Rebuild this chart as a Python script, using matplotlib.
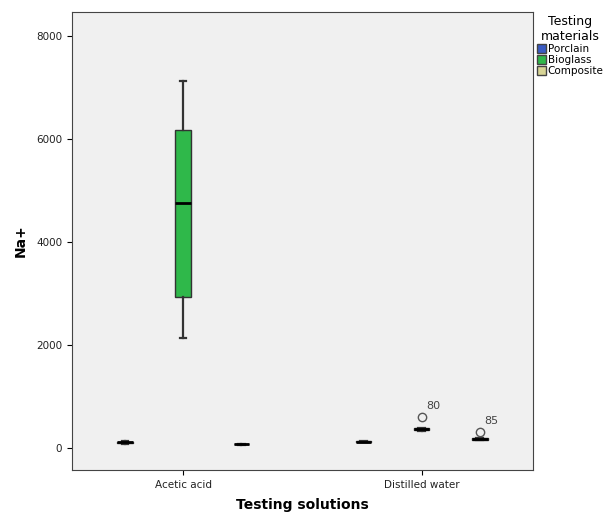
import matplotlib
matplotlib.use("Agg")
import matplotlib.pyplot as plt
from matplotlib.patches import Patch

solutions = ["Acetic acid", "Distilled water"]
materials = ["Porclain", "Bioglass", "Composite"]
colors = ["#3a5bc4", "#2fb84a", "#d8d596"]

# box stats per solution, per material: whislo, q1, med, q3, whishi
whislo = [[80, 2130, 65], [110, 330, 150]]
q1 = [[95, 2930, 70], [115, 340, 160]]
med = [[110, 4750, 75], [125, 360, 175]]
q3 = [[125, 6170, 80], [130, 380, 185]]
whishi = [[135, 7120, 85], [140, 390, 195]]
fliers = [[[], [], []], [[], [600], [310]]]
flier_ids = [[[], [], []], [[], ["80"], ["85"]]]

fig = plt.figure(figsize=(6.07, 5.17), dpi=100)
ax = fig.add_axes([0.1186, 0.091, 0.759, 0.886])
ax.set_facecolor("#f0f0f0")

offsets = [-0.244, 0.0, 0.244]
for i, sol in enumerate(solutions):
    for j, mat in enumerate(materials):
        st = [dict(whislo=whislo[i][j], q1=q1[i][j], med=med[i][j],
                   q3=q3[i][j], whishi=whishi[i][j], fliers=fliers[i][j])]
        ax.bxp(st, positions=[i + offsets[j]], widths=0.065, patch_artist=True,
               boxprops=dict(facecolor=colors[j], edgecolor="#333333", linewidth=1),
               medianprops=dict(color="black", linewidth=2),
               whiskerprops=dict(color="#333333", linewidth=1.6),
               capprops=dict(color="#333333", linewidth=1.6),
               capwidths=0.028,
               flierprops=dict(marker="o", markerfacecolor="none",
                               markeredgecolor="#555555", markersize=6))
        for v, lab in zip(fliers[i][j], flier_ids[i][j]):
            ax.text(i + offsets[j] + 0.02, v + 120, lab, fontsize=8,
                    color="#444444", ha="left", va="bottom")

ax.set_xlim(-0.466, 1.466)
ax.set_ylim(-427, 8466)
ax.set_xticks(range(len(solutions)))
ax.set_xticklabels(solutions, fontsize=7.5, color="#222222")
ax.set_yticks([0, 2000, 4000, 6000, 8000])
ax.tick_params(axis="y", labelsize=7.5, labelcolor="#222222")
ax.set_xlabel("Testing solutions", fontsize=10, fontweight="bold", labelpad=6)
ax.set_ylabel("Na+", fontsize=10, fontweight="bold", labelpad=6)
for s in ax.spines.values():
    s.set_color("#444444")

handles = [Patch(facecolor=c, edgecolor="#444444", label=m)
           for m, c in zip(materials, colors)]
leg = fig.legend(handles=handles, title="Testing\nmaterials", loc="upper left",
                 bbox_to_anchor=(0.873, 0.985), frameon=False, fontsize=7.5,
                 title_fontsize=9, handlelength=0.8, handleheight=0.9,
                 handletextpad=0.2, labelspacing=0.1, borderpad=0.2)
leg.get_title().set_multialignment("center")

fig.savefig("out.png", dpi=100)
